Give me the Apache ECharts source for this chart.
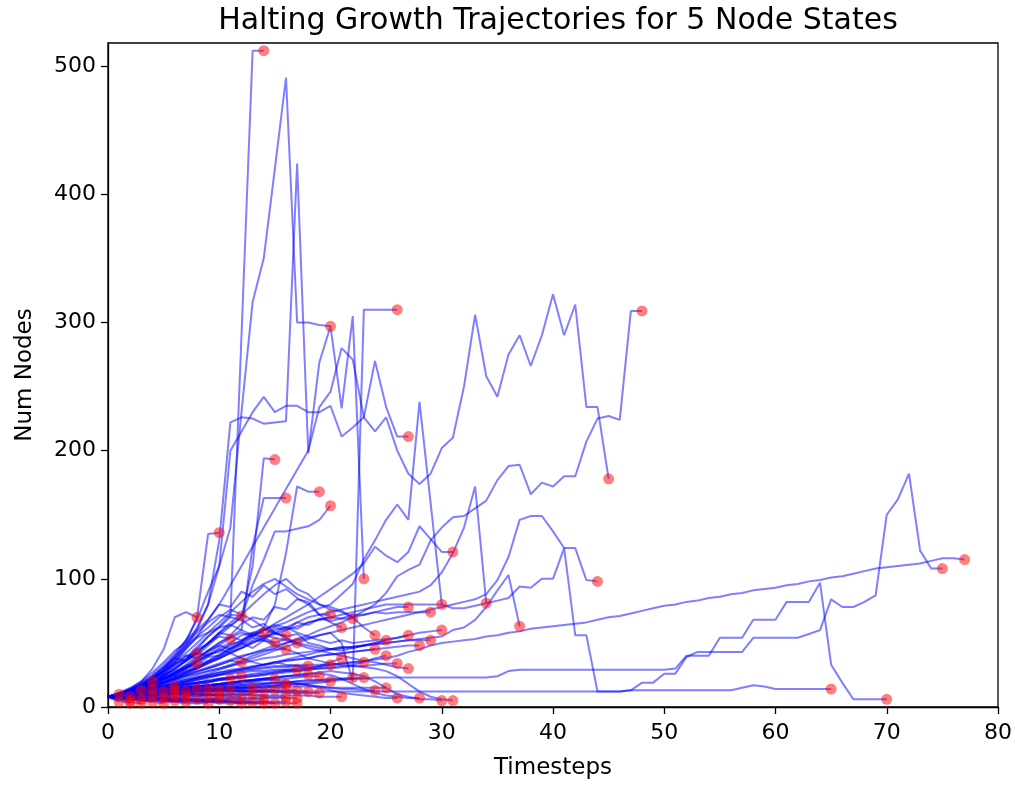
<!DOCTYPE html>
<html>
<head>
<meta charset="utf-8">
<script src="https://cdn.jsdelivr.net/npm/echarts/dist/echarts.min.js"></script>
<style>
  html, body { margin: 0; padding: 0; background: #fff; }
  #chart { width: 1015px; height: 785px; }
</style>
</head>
<body>
<div id="chart"></div>
<script>
// Node count per timestep for each run (index = timestep). The last value is where the run halted.

// Runs that halt quickly with few nodes
const shortRuns = [
  [8,4],
  [8,10],
  [8,5,3],
  [8,6,5],
  [8,9,8],
  [8,6,4,3],
  [8,7,6,6],
  [8,10,12,13],
  [8,7,6,5,4],
  [8,9,9,10,9],
  [8,10,12,13,14],
  [8,7,6,5,4,3],
  [8,8,7,7,8,7],
  [8,9,10,11,12,12],
  [8,7,7,6,6,5,5],
  [8,9,9,10,10,9,9],
  [8,9,10,11,12,13,13],
  [8,10,12,13,14,15,16],
  [8,7,6,6,5,5,4,4],
  [8,9,9,9,8,8,8,8],
  [8,9,10,11,11,12,12,12],
  [8,8,7,7,7,6,6,6,6],
  [8,9,10,11,12,13,14,14,14],
  [8,7,6,5,5,4,4,3,3,3],
  [8,8,9,9,9,9,10,9,9,9],
  [8,9,10,11,12,13,13,14,14,14],
  [8,8,7,7,7,7,6,6,6,6,6],
  [8,9,9,10,10,10,10,9,9,9,9],
  [8,9,10,10,11,12,12,13,13,13,13],
  [8,8,7,7,6,6,6,6,5,5,5,5],
  [8,9,10,11,12,13,14,14,14,13,13,13],
  [8,9,9,10,10,10,11,11,10,9,9,8,8],
  [8,7,7,6,6,5,5,4,4,4,3,3,3],
  [8,7,7,6,6,6,5,5,5,5,4,4,4,4],
  [8,9,9,10,10,11,11,11,11,10,10,10,10,10],
  [8,9,10,11,12,13,14,15,15,15,15,15,15,15],
  [8,8,8,7,7,7,7,7,6,6,6,6,6,6,6],
  [8,9,10,10,11,11,12,12,12,12,12,12,12,12,12],
  [8,8,7,7,6,6,5,5,5,4,4,4,3,3,3],
  [8,7,7,6,6,5,5,5,4,4,4,4,3,3,3,3],
  [8,9,10,11,12,13,13,14,14,14,13,13,13,13,13,13],
  [8,9,10,10,11,11,11,10,10,10,9,9,9,9,8,8,8],
  [8,8,8,7,7,7,6,6,6,5,5,5,5,4,4,4,4],
  [8,9,11,12,13,14,15,16,16,16,16,16,15,15,15,15,15],
  [8,8,8,8,8,8,8,8,8,7,7,7,7,7,7,7,7,7],
  [8,9,9,10,10,11,11,12,12,12,13,13,13,13,13,13,13,13],
  [8,8,7,7,7,6,6,6,5,5,5,4,4,4,4,3,3,3],
  [8,9,10,11,12,12,12,12,12,12,12,12,12,12,12,12,12,12,12],
  [8,9,9,10,11,11,12,12,13,13,13,13,12,12,12,12,11,11,11,11],
  [8,8,9,9,9,10,10,10,10,10,10,10,10,10,9,9,9,9,9,8,8,8],
  [8,9,10,11,12,13,14,15,16,17,17,18,18,19,19,19,19,18,17,16,15,14,14,13,13],
  [8,9,10,11,11,12,12,13,13,14,14,14,15,15,15,16,16,16,16,16,15,15,15,15,15,15],
  [8,9,10,11,12,13,14,15,16,17,18,19,20,20,21,21,20,19,17,15,13,11,10,9,8,7,7],
  [8,9,10,11,12,13,14,15,16,17,18,19,20,21,22,23,24,25,26,26,25,22,18,14,11,9,8,7,7],
  [8,9,10,11,12,13,14,15,16,17,18,19,20,21,22,23,24,25,26,27,28,27,26,24,20,15,10,8,6,6,5],
  [8,9,10,12,13,15,16,18,19,20,21,22,23,24,25,26,27,28,29,30,31,32,32,31,30,28,24,18,12,8,6,5]
];

// Runs that grow to a moderate size before halting
const midRuns = [
  [8,11,14,17,20],
  [8,10,14,20,30,45,70,74,70],
  [8,10,13,17,22,28,33,40,42],
  [8,9,12,15,19,24,28,31,34],
  [8,10,12,15,19,25,29,36,42,50,55,53],
  [8,9,10,11,12,14,15,17,18,19,21,22],
  [8,10,13,16,21,25,32,38,47,55,63,72,71],
  [8,9,11,13,16,19,22,25,28,30,33,36,35],
  [8,9,11,12,14,15,17,18,19,21,22,23,24],
  [8,9,12,15,20,26,33,40,38,44,50,55,52,58,58],
  [8,9,11,14,17,21,24,28,30,35,38,43,46,51,52,50],
  [8,9,10,11,12,13,14,15,16,17,18,19,20,21,22,22],
  [8,10,12,15,19,22,27,30,36,40,46,50,56,58,61,57,56],
  [8,9,11,13,16,19,22,25,28,31,34,37,40,42,44,45,45],
  [8,8,9,10,10,11,12,12,13,14,14,15,16,16,17,17,18],
  [8,10,13,18,24,31,40,48,55,62,70,76,72,68,62,58,54,50],
  [8,9,10,12,14,16,18,20,22,24,25,26,27,28,28,29,29,29],
  [8,9,10,11,13,15,17,19,21,23,25,27,28,29,30,31,31,32,32],
  [8,9,10,11,12,13,14,15,16,17,18,19,20,21,22,23,24,24,25],
  [8,8,9,10,11,12,13,14,15,16,17,18,19,20,21,22,22,23,24,24],
  [8,10,13,17,23,26,34,37,45,49,58,56,65,70,68,78,76,84,82,72,72],
  [8,9,11,13,15,17,19,21,23,25,27,28,29,30,31,32,32,33,33,33,33],
  [8,8,9,10,10,11,12,12,13,14,14,15,15,16,16,17,18,18,19,20,20],
  [8,10,14,19,25,33,42,52,60,68,80,78,90,86,95,88,92,85,80,72,66,62],
  [8,10,14,18,24,31,38,36,42,40,45,42,38,35,33,35,33,32,30,32,35,38],
  [8,10,12,16,18,23,26,32,35,41,43,49,51,57,55,62,60,66,64,69,67,69,69],
  [8,8,9,10,11,12,12,13,14,15,15,16,17,17,18,19,19,20,21,21,22,22,23],
  [8,9,10,11,13,14,16,17,19,20,22,23,24,26,27,28,29,30,31,32,33,34,35,35],
  [8,8,8,9,9,10,10,11,12,12,13,14,14,15,16,16,17,18,18,19,20,21,22,23],
  [8,10,13,17,22,28,35,42,50,58,66,74,82,90,96,100,94,88,84,80,78,75,70,62,56],
  [8,9,11,12,14,16,18,20,22,24,26,28,30,31,33,34,36,37,38,40,41,42,43,44,45],
  [8,11,15,20,27,35,44,50,58,66,72,70,68,62,65,58,55,57,50,48,45,47,46,48,50,52],
  [8,9,11,14,18,22,27,32,38,44,48,45,50,46,52,48,45,42,38,36,34,33,33,35,38,40],
  [8,9,10,12,13,15,16,18,19,20,22,23,24,25,26,27,28,28,29,30,30,31,32,32,33,34,34],
  [8,9,11,13,16,19,23,27,31,35,39,44,48,52,56,54,52,49,46,44,42,40,38,36,35,33,31,30],
  [8,10,13,17,23,30,38,46,54,58,62,64,60,56,54,50,53,50,48,46,45,44,46,48,50,52,54,56],
  [8,9,11,13,15,17,19,21,23,25,27,29,30,32,33,35,36,37,38,40,41,42,43,44,45,46,47,48,48],
  [8,10,12,15,19,24,30,36,43,50,58,66,72,80,88,95,100,92,88,80,76,74,70,72,74,76,78,78],
  [8,10,12,14,16,19,21,24,26,28,30,32,34,36,38,39,41,42,43,44,45,46,47,48,49,50,51,52,52,52],
  [8,11,12,16,18,23,25,30,33,39,40,46,49,54,52,60,62,61,66,68,70,69,72,72,74,73,74,74,74,74],
  [8,9,11,14,17,21,25,30,36,42,48,54,58,55,60,64,62,58,55,52,50,52,50,51,52,53,54,56,58,59,60]
];

// Runs that reach large sizes or run for a long time
const runA = [8,10,12,15,19,24,30,37,45,55,62,70,290,512,512];
const runB = [8,10,13,17,22,30,40,52,68,90,110,140,230,316,350,420,491,300,300,298,297];
const runC = [8,10,12,16,21,27,35,46,60,80,130,222,226,225,221,222,223,424,198,269,297,233,305,100];
const runD = [8,10,13,17,22,29,37,48,62,80,110,200,215,230,242,230,235,235,230,230,235,211,218,226,270,234,211,211];
const runE = [8,10,13,17,22,28,35,45,55,68,80,95,110,125,140,155,170,185,200,234,246,280,271,226,215,226,200,182,174,182,202,210,250,306,258,242,275,290,266,290,322,290,314,234,234,178];
const runF = [8,9,11,13,15,17,20,22,25,28,30,33,36,40,43,46,50,53,56,60,63,66,70,75,80,89,102,107,111,130,140,148,149,155,161,177,188,189,166,175,172,180,180,207,225,227,224,309,309];
const runG = [8,10,12,15,19,24,30,36,42,50,58,64,70,110,194,193];
const runH = [8,10,13,17,22,28,38,50,70,135,136];
const runI = [8,9,11,14,17,21,26,31,37,44,50,55,60,125,163,163,163];
const runJ = [8,9,11,13,16,19,23,27,31,36,41,46,51,56,62,80,120,172,168,168];
const runK = [8,10,12,15,18,22,27,33,40,48,56,63,70,95,115,137,137,139,141,146,157];
const runL = [8,9,11,13,15,18,21,24,27,30,33,36,39,42,45,48,50,52,54,56,58,50,20,310,310,310,310];
const runM = [8,10,12,15,18,22,26,30,35,40,44,48,52,56,60,63,66,70,74,77,80,88,96,115,130,146,158,146,238,159,80];
const runN = [8,9,11,14,17,20,24,28,32,36,40,45,50,55,60,65,70,75,80,86,92,98,104,112,125,118,113,121,141,131,121,121];
const runO = [8,9,11,13,16,19,22,26,30,34,38,42,46,50,54,58,62,66,70,72,74,76,78,80,82,84,86,88,90,95,105,120,140,172,81];
const runP = [8,9,10,12,14,16,18,20,23,26,29,32,35,38,41,44,47,50,53,56,58,60,62,64,66,68,70,72,74,76,78,80,82,84,88,99,117,146,149,149,137,124,124,99,98];
const runQ = [8,9,10,11,13,15,17,19,21,23,25,27,29,31,33,35,37,39,41,43,45,46,47,48,49,50,51,52,53,54,55,60,62,68,78,91,103,63];
const runR = [8,9,11,13,16,19,22,26,30,34,38,42,46,50,54,57,60,63,66,68,70,72,74,76,78,80,80,80,80,80,80,77,77,79,81,83,85,94,93,100,100,124,56,56,12,12,12,13,19,19,26,26,39,43,43,43,43,43,54,54,54,54,54,57,60,84,78,78,82,87,150,162,182,122,108,108];
const runS = [8,8,9,10,11,12,13,14,15,16,16,17,17,18,18,19,19,20,20,21,21,22,22,22,23,23,23,23,23,23,23,23,23,23,23,24,28,29,29,29,29,29,29,29,29,29,29,29,29,29,29,30,40,40,40,54,54,54,68,68,68,82,82,82,97,33,19,6,6,6,6];
const runT = [8,9,10,10,11,11,11,12,12,12,12,12,12,12,12,12,12,12,12,12,12,12,12,12,12,12,12,12,12,12,12,12,12,12,12,12,12,12,12,12,12,12,12,12,12,12,12,13,13,13,13,13,13,13,13,13,13,15,17,16,14,14,14,14,14,14];
const runU = [8,9,10,11,12,14,15,16,18,19,21,22,23,24,25,27,28,29,30,31,33,34,35,36,37,38,40,43,45,48,50,51,52,53,55,56,58,59,61,62,63,64,65,66,68,70,71,73,75,77,79,80,82,83,85,86,88,89,91,92,93,95,96,98,99,101,102,104,106,108,109,110,111,112,114,116,116,115];

const longRuns = [runU, runT, runS, runR, runQ, runP, runO, runN, runM, runL, runK,
                  runJ, runI, runH, runG, runF, runE, runD, runC, runB, runA];

const xTicks = [0, 10, 20, 30, 40, 50, 60, 70, 80];
const yTicks = [0, 100, 200, 300, 400, 500];

const FONT = 'DejaVu Sans';

function runSeries(values) {
  const last = values.length - 1;
  return {
    type: 'line',
    silent: true,
    animation: false,
    symbol: 'circle',
    symbolSize: 11,
    showSymbol: true,
    lineStyle: { color: '#0000ff', opacity: 0.5, width: 2 },
    itemStyle: { color: 'rgba(255,0,0,0.5)', borderWidth: 0 },
    emphasis: { disabled: true },
    data: values.map((v, t) => t === last ? [t, v] : { value: [t, v], symbol: 'none' })
  };
}

const allRuns = [...shortRuns, ...midRuns, ...longRuns];

const chart = echarts.init(document.getElementById('chart'), null, { renderer: 'canvas' });
chart.setOption({
  animation: false,
  backgroundColor: '#ffffff',
  title: {
    text: 'Halting Growth Trajectories for 5 Node States',
    left: 553,
    top: 1,
    textAlign: 'center',
    textStyle: { fontFamily: FONT, fontSize: 30, fontWeight: 'normal', color: '#000' }
  },
  grid: {
    left: 108, right: 17, top: 43, bottom: 78,
    show: true, borderColor: '#000', borderWidth: 1.3, backgroundColor: 'transparent'
  },
  xAxis: {
    type: 'value',
    min: 0, max: 80, interval: 10,
    name: 'Timesteps',
    nameLocation: 'middle',
    nameGap: 50,
    nameTextStyle: { fontFamily: FONT, fontSize: 23, color: '#000' },
    axisLine: { show: true, onZero: false, lineStyle: { color: '#000', width: 1.3 } },
    axisTick: { show: true, length: 7, lineStyle: { color: '#000', width: 1.3 }, customValues: xTicks },
    axisLabel: { fontFamily: FONT, fontSize: 22, color: '#000', margin: 15, customValues: xTicks },
    splitLine: { show: false }
  },
  yAxis: {
    type: 'value',
    min: 0, max: 518, interval: 100,
    name: 'Num Nodes',
    nameLocation: 'middle',
    nameGap: 71,
    nameTextStyle: { fontFamily: FONT, fontSize: 23, color: '#000' },
    axisLine: { show: true, onZero: false, lineStyle: { color: '#000', width: 1.3 } },
    axisTick: { show: true, length: 7, lineStyle: { color: '#000', width: 1.3 }, customValues: yTicks },
    axisLabel: { fontFamily: FONT, fontSize: 22, color: '#000', margin: 12, customValues: yTicks },
    splitLine: { show: false }
  },
  series: allRuns.map(runSeries)
});
</script>
</body>
</html>
